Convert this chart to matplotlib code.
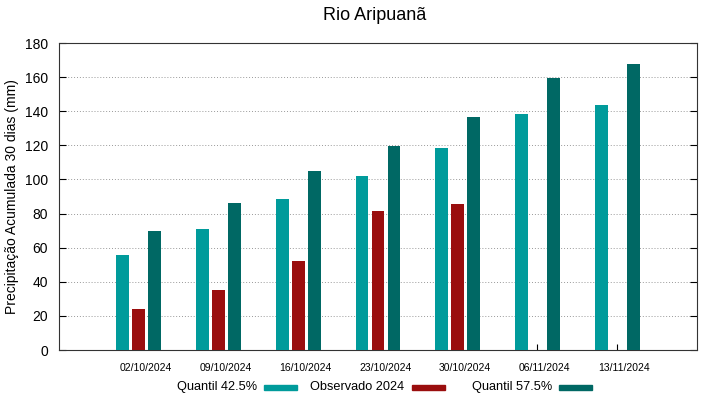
import matplotlib.pyplot as plt
from matplotlib.patches import Rectangle
import numpy as np

plt.rcParams['font.family'] = ['Liberation Sans', 'DejaVu Sans']

datas = ["02/10/2024", "09/10/2024", "16/10/2024", "23/10/2024",
         "30/10/2024", "06/11/2024", "13/11/2024"]
q425 = [56, 71, 88.5, 102, 118.5, 138.7, 143.4]
obs2024 = [24, 35, 52, 81.5, 85.8, np.nan, np.nan]
q575 = [70, 86, 105, 119.5, 136.8, 159.6, 168]

c_q425 = "#009b9b"
c_obs = "#9a0e0e"
c_q575 = "#006864"

W, H = 719, 399
fig = plt.figure(figsize=(W / 100, H / 100), dpi=100)
ax = fig.add_axes([0.082, 0.1228, 0.8874, 0.7692])

x = np.arange(len(datas))
w = 0.16
ax.bar(x - 0.2, q425, w, color=c_q425, zorder=3)
ax.bar(x, obs2024, w, color=c_obs, zorder=3)
ax.bar(x + 0.2, q575, w, color=c_q575, zorder=3)

ax.set_xlim(-1, 7)
ax.set_ylim(0, 180)
ax.set_yticks(np.arange(0, 181, 20))
# ticks at bar groups, labels drawn a little to the right (as in gnuplot)
ax.set_xticks(x)
ax.set_xticklabels([])
ax.set_xticks(x + 0.09, minor=True)
ax.set_xticklabels(datas, minor=True, fontsize=7.5)
ax.tick_params(axis='y', direction='in', right=True, length=5, labelsize=10, pad=8)
ax.tick_params(axis='x', which='major', direction='in', length=4)
ax.tick_params(axis='x', which='minor', length=0, labelsize=7.5, pad=9)
ax.grid(axis='y', linestyle=(0, (1, 2)), color='#999999', linewidth=0.7, zorder=0)
for s in ax.spines.values():
    s.set_linewidth(0.8)
    s.set_color('#333333')

ax.set_ylabel("Precipitação Acumulada 30 dias (mm)", fontsize=10)
fig.text(374.5 / W, 1 - 16 / H, "Rio Aripuanã", fontsize=13, ha='center', va='center')

# gnuplot-like legend: text right-aligned, then swatch
legenda = [("Quantil 42.5%", c_q425, 257, 264),
           ("Observado 2024", c_obs, 404, 412),
           ("Quantil 57.5%", c_q575, 552, 559)]
ly = 387
for txt, cor, xt, xs in legenda:
    fig.text(xt / W, 1 - ly / H, txt, fontsize=9.2, ha='right', va='center')
    fig.add_artist(Rectangle((xs / W, 1 - (ly + 3) / H), 33 / W, 5 / H,
                             transform=fig.transFigure, color=cor))

fig.savefig("out.png", dpi=100)
